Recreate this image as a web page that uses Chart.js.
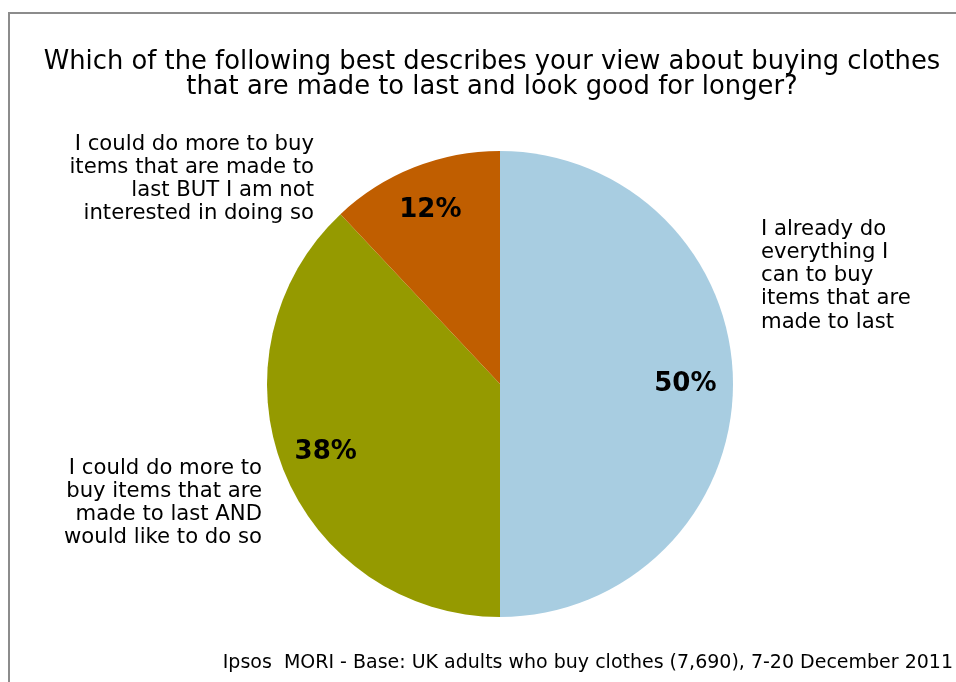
<!DOCTYPE html>
<html>
<head>
<meta charset="utf-8">
<script src="https://cdn.jsdelivr.net/npm/chart.js@4.4.1/dist/chart.umd.min.js"></script>
<style>
  html, body { margin: 0; padding: 0; background: #fff; }
  #wrap { width: 956px; height: 682px; position: relative; }
</style>
</head>
<body>
<div id="wrap"><canvas id="myChart" width="956" height="682"></canvas></div>
<script>
const ctx = document.getElementById('myChart').getContext('2d');

// survey answers, clockwise from 12 o'clock
const categories = [
  ['I already do', 'everything I', 'can to buy', 'items that are', 'made to last'],
  ['I could do more to', 'buy items that are', 'made to last AND', 'would like to do so'],
  ['I could do more to buy', 'items that are made to', 'last BUT I am not', 'interested in doing so']
];
const shares = [50, 38, 12];
const sliceColors = ['#A8CDE1', '#959A00', '#C05E00'];

const titleLines = [
  'Which of the following best describes your view about buying clothes',
  'that are made to last and look good for longer?'
];
const footnote = 'Ipsos  MORI - Base: UK adults who buy clothes (7,690), 7-20 December 2011';

const fontFamily = '"DejaVu Sans", sans-serif';

// where each category text block sits: anchor x, first line y, alignment
const labelSpots = [
  { x: 761, y: 229, align: 'left' },
  { x: 262, y: 468, align: 'right' },
  { x: 314, y: 144, align: 'right' }
];

const decorations = {
  id: 'decorations',
  beforeDraw(chart) {
    const c = chart.ctx;
    c.save();
    c.fillStyle = '#fff';
    c.fillRect(0, 0, chart.width, chart.height);
    // outer frame, open to the right and bottom
    c.strokeStyle = '#8c8c8c';
    c.lineWidth = 2;
    c.beginPath();
    c.moveTo(9, chart.height + 5);
    c.lineTo(9, 13);
    c.lineTo(chart.width + 5, 13);
    c.stroke();
    c.restore();
  },
  afterDraw(chart) {
    const c = chart.ctx;
    c.save();
    c.fillStyle = '#000';
    c.textBaseline = 'middle';

    // title
    c.textAlign = 'center';
    c.font = '25.8px ' + fontFamily;
    c.fillText(titleLines[0], 492, 62);
    c.fillText(titleLines[1], 492, 87);

    // category text blocks
    c.font = '21.2px ' + fontFamily;
    categories.forEach((lines, i) => {
      const spot = labelSpots[i];
      c.textAlign = spot.align;
      lines.forEach((line, j) => c.fillText(line, spot.x, spot.y + j * 23.3));
    });

    // percentages inside the slices
    c.font = 'bold 26px ' + fontFamily;
    c.textAlign = 'center';
    const meta = chart.getDatasetMeta(0);
    meta.data.forEach((arc, i) => {
      const mid = (arc.startAngle + arc.endAngle) / 2;
      const r = arc.outerRadius * 0.8;
      c.fillText(shares[i] + '%', arc.x + Math.cos(mid) * r - 1, arc.y + Math.sin(mid) * r);
    });

    // source line
    c.font = '19px ' + fontFamily;
    c.textAlign = 'right';
    c.fillText(footnote, 953, 663);
    c.restore();
  }
};

const myChart = new Chart(ctx, {
  type: 'pie',
  data: {
    labels: categories.map(l => l.join(' ')),
    datasets: [{
      data: shares,
      backgroundColor: sliceColors,
      borderWidth: 0
    }]
  },
  options: {
    responsive: false,
    animation: { duration: 0 },
    layout: { padding: { top: 151, bottom: 65, left: 267, right: 223 } },
    plugins: {
      legend: { display: false },
      tooltip: { enabled: false },
      title: { display: false }
    }
  },
  plugins: [decorations]
});
</script>
</body>
</html>
